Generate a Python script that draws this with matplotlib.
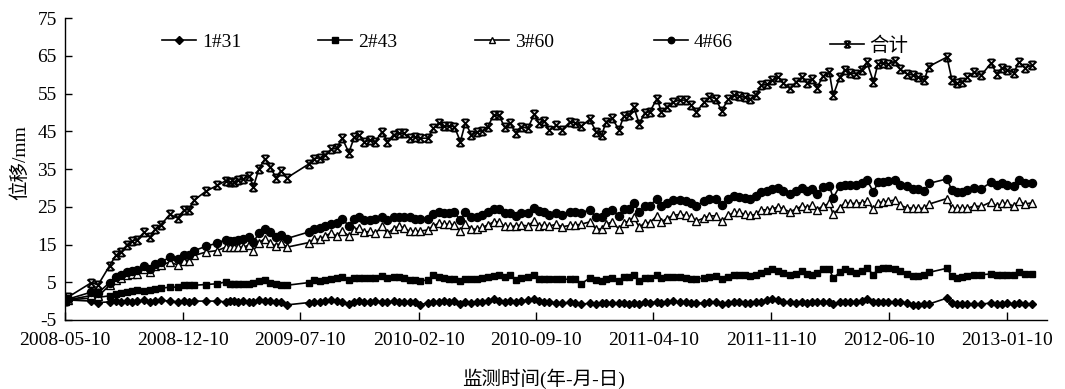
import matplotlib
matplotlib.use("Agg")
import matplotlib.pyplot as plt
from matplotlib.path import Path
import pandas as pd

plt.rcParams['font.family'] = ['Liberation Serif', 'Noto Sans CJK SC']
plt.rcParams['axes.unicode_minus'] = False

# ---------------- data ----------------
start_date = "2008-05-10"
# days since 2008-05-10 of each survey
days = [0, 5, 48, 60, 81, 92, 101, 113, 122, 131, 143, 154, 163, 173, 190, 204, 216, 224, 234, 255,
        276, 291, 299, 306, 314, 323, 334, 341, 351, 362, 372, 382, 391, 402, 441, 451, 462, 471, 482, 492,
        502, 514, 524, 532, 542, 553, 562, 574, 584, 595, 604, 613, 624, 633, 642, 657, 667, 677, 687, 696,
        705, 716, 725, 736, 746, 756, 766, 776, 786, 796, 806, 816, 826, 838, 850, 858, 868, 877, 890, 900,
        915, 923, 935, 950, 962, 972, 980, 991, 1003, 1012, 1021, 1030, 1040, 1050, 1059, 1072, 1080, 1090, 1101, 1113,
        1124, 1134, 1143, 1158, 1167, 1178, 1189, 1201, 1211, 1221, 1231, 1240, 1251, 1261, 1272, 1281, 1292, 1301, 1312, 1324,
        1334, 1344, 1353, 1362, 1372, 1384, 1391, 1403, 1412, 1421, 1432, 1443, 1452, 1464, 1472, 1482, 1491, 1503, 1512, 1524,
        1536, 1545, 1556, 1564, 1597, 1606, 1615, 1624, 1634, 1646, 1659, 1677, 1687, 1697, 1706, 1718, 1727, 1738, 1751]

s1_31 = [0, 0.3, 0, -0.4, -0.2, 0, -0.2, 0, -0.2, 0, 0.2, -0.2, 0, 0.2, 0, -0.2, 0, -0.2, 0, 0,
         0, -0.2, 0, 0, -0.2, 0, -0.2, -0.3, 0.2, 0, 0, -0.3, -0.3, -1.0, -0.4, -0.2, -0.3, 0, 0.4, 0,
         -0.2, -0.8, -0.2, 0, -0.2, -0.2, 0, -0.2, -0.3, 0, -0.2, -0.3, -0.3, -0.2, -1.1, -0.4, -0.2, -0.2, 0, -0.2,
         0, -0.8, -0.2, -0.6, -0.3, -0.2, 0, 0.5, 0, -0.2, 0, -0.3, 0, 0.2, 0.5, 0, -0.2, -0.3, -0.5, -0.6,
         -0.3, -0.6, -0.8, -0.6, -0.8, -0.6, -0.5, -0.5, -0.6, -0.5, -0.8, -0.6, -0.8, -0.3, -0.5, -0.2, -0.5, -0.2, 0, -0.3,
         -0.3, -0.5, -0.6, -0.5, -0.3, -0.2, -0.9, -0.4, -0.3, -0.3, -0.5, -0.6, -0.3, -0.2, 0.2, 0.5, 0.2, -0.2, -0.3, -0.4,
         -0.3, -0.5, -0.3, -0.2, -0.3, -0.2, -0.8, -0.3, -0.3, -0.2, -0.3, 0, 0.6, -0.3, -0.2, -0.2, -0.3, -0.3, -0.3, -0.5,
         -1.0, -1.0, -0.8, -0.8, 0.8, -0.5, -0.8, -0.8, -0.8, -0.8, -0.8, -0.5, -0.8, -0.8, -0.6, -0.8, -0.5, -0.8, -0.9]

s2_43 = [0, 0.3, 0.8, 1.0, 1.4, 2.0, 2.2, 2.4, 2.6, 2.9, 2.6, 2.9, 3.1, 3.4, 3.7, 3.7, 4.2, 4.2, 4.2, 4.4,
         4.6, 5.1, 4.6, 4.6, 4.6, 4.6, 4.6, 4.9, 5.2, 5.5, 4.9, 4.6, 4.4, 4.2, 4.9, 5.5, 5.2, 5.5, 5.9, 6.1,
         6.4, 5.7, 6.0, 6.1, 6.0, 6.1, 6.1, 6.6, 6.0, 6.3, 6.3, 6.0, 5.7, 5.5, 5.2, 5.7, 6.8, 6.3, 6.1, 5.9,
         5.9, 5.2, 5.9, 5.9, 5.9, 6.1, 6.3, 6.6, 6.8, 6.3, 6.8, 5.7, 6.0, 6.3, 6.8, 5.9, 5.9, 5.8, 5.8, 5.8,
         5.8, 5.8, 4.6, 6.1, 5.5, 5.3, 5.9, 6.1, 5.2, 6.4, 6.4, 6.8, 5.2, 6.1, 6.1, 7.0, 6.1, 6.4, 6.4, 6.4,
         6.1, 5.9, 5.9, 6.1, 6.4, 6.6, 5.9, 6.4, 6.8, 7.0, 6.8, 6.6, 7.0, 7.5, 8.1, 8.4, 7.9, 7.5, 6.8, 7.3,
         8.1, 7.2, 7.0, 7.5, 8.4, 8.5, 6.1, 7.6, 8.4, 8.1, 7.5, 8.1, 8.7, 7.0, 8.5, 8.7, 8.7, 8.4, 7.9, 7.2,
         6.6, 6.6, 7.0, 7.6, 8.7, 6.6, 6.1, 6.4, 6.6, 6.8, 7.0, 7.2, 7.0, 6.8, 6.8, 7.0, 7.6, 7.2, 7.2]

s3_60 = [0, 0.3, 1.5, 1.3, 4.2, 5.5, 6.1, 7.0, 7.2, 7.2, 8.6, 7.8, 9.3, 9.6, 10.3, 9.6, 10.7, 10.7, 12.1, 13.0,
         13.4, 14.3, 14.3, 14.3, 14.3, 14.3, 14.9, 13.4, 15.4, 16.6, 15.4, 14.6, 15.4, 14.3, 15.5, 16.4, 16.4, 17.3, 18.0, 17.3,
         18.6, 17.3, 18.9, 19.5, 18.3, 18.5, 18.0, 19.8, 18.0, 19.2, 19.8, 19.5, 18.5, 18.5, 18.5, 18.9, 19.9, 20.7, 20.4, 20.4,
         20.2, 18.6, 20.4, 19.2, 19.0, 19.6, 20.2, 21.0, 21.0, 19.8, 19.8, 19.9, 20.2, 19.9, 21.3, 19.9, 20.2, 19.9, 20.4, 19.7,
         20.1, 20.1, 20.4, 21.0, 19.1, 19.1, 20.4, 21.0, 19.1, 20.8, 21.2, 22.2, 19.6, 20.8, 20.8, 22.6, 21.0, 21.9, 22.7, 23.0,
         22.7, 22.3, 21.2, 22.1, 22.6, 22.6, 21.2, 22.7, 23.5, 23.5, 23.0, 22.7, 23.0, 24.2, 24.2, 24.5, 25.0, 24.4, 23.7, 24.4,
         25.2, 24.8, 25.4, 24.2, 25.2, 25.9, 23.0, 24.8, 26.1, 25.9, 25.9, 26.1, 26.5, 24.4, 26.1, 26.3, 26.5, 26.8, 25.4, 24.8,
         24.6, 24.6, 24.6, 25.7, 27.2, 24.6, 24.6, 24.6, 24.6, 25.2, 25.1, 26.3, 25.1, 25.9, 25.9, 25.2, 26.5, 25.7, 26.1]

s4_66 = [0, 0.5, 2.4, 2.2, 4.9, 6.4, 6.8, 7.7, 8.1, 8.3, 9.4, 8.6, 9.9, 10.3, 11.6, 11.2, 12.1, 12.2, 13.4, 14.5,
         15.4, 16.3, 16.0, 16.0, 16.3, 16.4, 16.9, 15.6, 18.0, 19.1, 18.2, 16.9, 17.5, 16.6, 18.3, 19.1, 19.5, 19.9, 20.4, 20.6,
         21.9, 19.9, 21.9, 22.4, 21.5, 21.5, 21.7, 22.4, 21.5, 22.4, 22.4, 22.4, 22.2, 21.9, 21.9, 21.9, 23.0, 23.5, 23.3, 23.3,
         23.5, 21.5, 23.5, 22.2, 22.2, 22.8, 23.5, 24.5, 24.5, 23.3, 23.3, 22.6, 23.3, 23.3, 24.8, 23.9, 23.5, 22.9, 23.4, 22.8,
         23.5, 23.5, 23.4, 24.2, 22.2, 22.2, 23.6, 24.2, 22.6, 24.5, 24.5, 25.9, 23.6, 25.1, 25.3, 27.2, 25.3, 26.1, 26.8, 26.8,
         26.6, 25.9, 25.3, 26.6, 27.2, 27.2, 25.4, 27.0, 27.8, 27.7, 27.4, 27.2, 27.8, 28.9, 29.1, 29.6, 30.0, 29.1, 28.3, 29.1,
         30.0, 29.2, 29.8, 28.3, 30.3, 30.5, 27.4, 30.5, 30.9, 30.7, 30.9, 31.2, 32.2, 28.9, 31.5, 31.5, 31.8, 32.2, 30.9, 30.5,
         29.8, 29.6, 29.2, 31.2, 32.4, 29.4, 28.9, 28.9, 29.4, 30.0, 29.8, 31.5, 30.7, 31.2, 30.9, 30.5, 32.2, 31.3, 31.3]

total = [0, 1.0, 4.9, 4.3, 9.4, 12.1, 12.9, 15.0, 16.0, 16.3, 18.2, 16.9, 19.1, 20.1, 23.0, 22.0, 24.2, 24.2, 26.8, 29.1,
         30.7, 31.9, 31.5, 31.7, 32.0, 32.4, 33.3, 30.2, 35.0, 37.7, 35.6, 32.7, 34.6, 32.7, 36.3, 37.8, 38.0, 38.8, 40.3, 40.5,
         43.2, 39.4, 43.5, 44.1, 42.3, 42.6, 42.3, 44.9, 42.3, 44.1, 44.5, 44.5, 43.2, 43.6, 43.2, 43.2, 45.8, 47.3, 46.4, 46.4,
         46.3, 42.3, 47.3, 44.1, 44.9, 45.2, 46.3, 49.3, 49.3, 46.1, 47.2, 44.7, 46.3, 45.8, 49.6, 47.2, 47.8, 45.3, 46.7, 45.4,
         47.6, 47.3, 46.4, 48.2, 44.9, 44.1, 47.6, 48.5, 45.4, 49.1, 49.3, 51.4, 47.0, 50.0, 50.2, 53.7, 50.2, 51.5, 52.8, 53.3,
         53.3, 52.0, 50.2, 52.8, 54.2, 53.7, 50.5, 53.5, 54.6, 54.4, 54.0, 53.5, 54.6, 57.2, 57.5, 58.6, 59.4, 57.8, 56.4, 58.1,
         59.4, 57.9, 59.0, 56.6, 59.6, 60.7, 54.6, 59.4, 61.4, 60.5, 60.3, 61.4, 63.4, 58.1, 62.9, 63.1, 62.8, 63.6, 61.6, 60.3,
         59.9, 59.4, 58.6, 62.2, 64.7, 58.7, 57.8, 58.1, 59.3, 60.7, 59.9, 63.1, 60.3, 61.9, 61.4, 60.5, 63.4, 61.9, 62.5]

series_names = ["1#31", "2#43", "3#60", "4#66", "合计"]
tick_labels = ["2008-05-10", "2008-12-10", "2009-07-10", "2010-02-10", "2010-09-10",
               "2011-04-10", "2011-11-10", "2012-06-10", "2013-01-10"]
y_ticks = [-5, 5, 15, 25, 35, 45, 55, 65, 75]

# ---------------- figure ----------------
dates = pd.Timestamp(start_date) + pd.to_timedelta(days, unit="D")

fig = plt.figure(figsize=(10.65, 3.89), dpi=100)
ax = fig.add_axes([0.061, 0.1775, 0.922, 0.7755])

star_path = Path([(-1, -1), (1, 1), (-1, 1), (1, -1),
                  (-0.7, 1), (0.7, 1), (-0.7, -1), (0.7, -1)],
                 [Path.MOVETO, Path.LINETO] * 4)

styles = [
    dict(marker='D', ms=4.5, mfc='black', mec='black'),
    dict(marker='s', ms=5.0, mfc='black', mec='black'),
    dict(marker='^', ms=5.8, mfc='white', mec='black', mew=1.0),
    dict(marker='o', ms=5.8, mfc='black', mec='black'),
    dict(marker=star_path, ms=5.8, mfc='none', mec='black', mew=1.4),
]
data = [s1_31, s2_43, s3_60, s4_66, total]

handles = []
for name, vals, st in zip(series_names, data, styles):
    h, = ax.plot(dates, vals, color='black', lw=1.2, label=name, **st)
    handles.append(h)

start = pd.Timestamp(start_date)
ax.set_xlim(start, start + pd.Timedelta(days=1778))
ax.set_ylim(-5, 75)
ax.set_yticks(y_ticks)
ax.set_yticklabels([str(v) for v in y_ticks])
ax.set_xticks([pd.Timestamp(t) for t in tick_labels])
ax.set_xticklabels(tick_labels)

for s in ['top', 'right']:
    ax.spines[s].set_visible(False)
for s in ['left', 'bottom']:
    ax.spines[s].set_linewidth(1.0)
ax.tick_params(axis='y', direction='in', length=5, width=1.0, pad=6, labelsize=14)
ax.tick_params(axis='x', direction='in', length=6, width=1.0, pad=9, labelsize=14)

# legends (each entry placed individually, like the reference)
leg_pos = [(0.0988, 0.921), (0.2576, 0.921), (0.418, 0.921), (0.600, 0.921), (0.779, 0.910)]
for i, (h, pos) in enumerate(zip(handles, leg_pos)):
    lg = ax.legend(handles=[h], loc='center left', bbox_to_anchor=pos, frameon=False,
                   handlelength=1.75, handletextpad=0.3, borderaxespad=0, borderpad=0,
                   fontsize=14, markerscale=0.8)
    if i < len(handles) - 1:
        ax.add_artist(lg)

fig.text(20 / 1065, 1 - 163 / 389, "位移/mm", rotation=90, ha='center', va='center', fontsize=14)
fig.text(544 / 1065, 1 - 379 / 389, "监测时间(年-月-日)", ha='center', va='center', fontsize=14)

fig.savefig("out.png", dpi=100)
